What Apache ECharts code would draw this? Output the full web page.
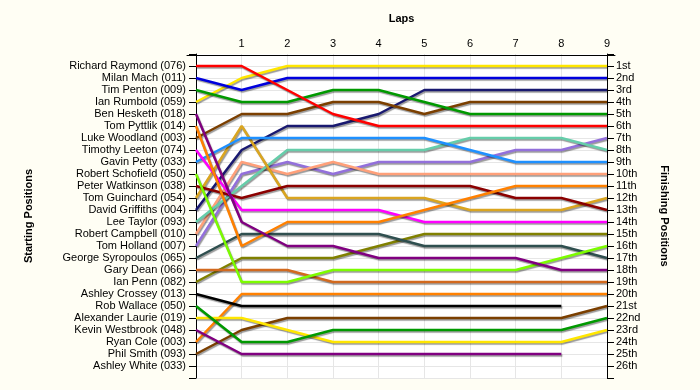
<!DOCTYPE html>
<html>
<head>
<meta charset="utf-8">
<script src="https://cdn.jsdelivr.net/npm/echarts@6/dist/echarts.min.js"></script>
<style>
html,body{margin:0;padding:0;background:#fffef4;}
#c{width:700px;height:390px;}
</style>
</head>
<body>
<div id="c"></div>
<script>
// ---- data ----
const lapLabels = ['1','2','3','4','5','6','7','8','9'];
const startLabels = [
  'Richard Raymond (076)','Milan Mach (011)','Tim Penton (009)','Ian Rumbold (059)',
  'Ben Hesketh (018)','Tom Pyttlik (014)','Luke Woodland (003)','Timothy Leeton (074)',
  'Gavin Petty (033)','Robert Schofield (050)','Peter Watkinson (038)','Tom Guinchard (054)',
  'David Griffiths (004)','Lee Taylor (093)','Robert Campbell (010)','Tom Holland (007)',
  'George Syropoulos (065)','Gary Dean (066)','Ian Penn (082)','Ashley Crossey (013)',
  'Rob Wallace (050)','Alexander Laurie (019)','Kevin Westbrook (048)','Ryan Cole (003)',
  'Phil Smith (093)','Ashley White (033)'
];
const finishLabels = ['1st','2nd','3rd','4th','5th','6th','7th','8th','9th','10th','11th','12th','13th',
  '14th','15th','16th','17th','18th','19th','20th','21st','22nd','23rd','24th','25th','26th'];

// position of each driver at laps 0..n
const raymond   = [1,1,3,5,6,6,6,6,6,6];
const mach      = [2,3,2,2,2,2,2,2,2,2];
const penton    = [3,4,4,3,3,4,5,5,5,5];
const rumbold   = [4,2,1,1,1,1,1,1,1,1];
const hesketh   = [5,14,16,16,17,17,17,17,18,18];
const pyttlik   = [6,16,14,14,14,13,12,11,11,11];
const woodland  = [7,5,5,4,4,5,4,4,4,4];
const leeton    = [8,13,13,13,13,14,14,14,14,14];
const petty     = [9,7,7,7,7,7,8,9,9,9];
const schofield = [10,19,19,18,18,18,18,18,17,16];
const watkinson = [11,12,11,11,11,11,11,12,12,13];
const guinchard = [12,6,12,12,12,12,13,13,13,12];
const griffiths = [13,8,6,6,5,3,3,3,3,3];
const taylor    = [14,11,8,8,8,8,7,7,7,8];
const campbell  = [15,9,10,9,10,10,10,10,10,10];
const holland   = [16,10,9,10,9,9,9,8,8,7];
const syropoulos= [17,15,15,15,15,16,16,16,16,17];
const dean      = [18,18,18,19,19,19,19,19,19,19];
const penn      = [19,17,17,17,16,15,15,15,15,15];
const crossey   = [20,21,21,21,21,21,21,21,21];
const wallace   = [21,24,24,23,23,23,23,23,23,22];
const laurie    = [22,22,23,24,24,24,24,24,24,23];
const westbrook = [23,25,25,25,25,25,25,25,25];
const cole      = [24,20,20,20,20,20,20,20,20,20];
const smith     = [25,23,22,22,22,22,22,22,22,21];

const driverRuns = [raymond,mach,penton,rumbold,hesketh,pyttlik,woodland,leeton,petty,schofield,
  watkinson,guinchard,griffiths,taylor,campbell,holland,syropoulos,dean,penn,crossey,wallace,
  laurie,westbrook,cole,smith];

// ---- styles ----
const palette = ['#ff0000','#0000dd','#009900','#ffe600','#800080','#ff8000','#7b3f00','#ff00ff',
  '#1e90ff','#7cfc00','#8b0000','#daa520','#191970','#66cdaa','#ffa07a','#9370db','#2f4f4f',
  '#d2691e','#808000','#000000','#009900','#ffe600','#800080','#ff8000','#7b3f00'];

const FONT = 'Liberation Sans';
const series = driverRuns.map((run, i) => ({
  type: 'line',
  name: startLabels[i],
  xAxisIndex: 0, yAxisIndex: 0,
  data: run.map((p, lap) => [lap, p]),
  symbol: 'none',
  z: 2 + (25 - i) / 100,
  lineStyle: {
    color: palette[i], width: 2.5,
    shadowColor: 'rgba(0,0,0,0.4)', shadowBlur: 1, shadowOffsetX: 1, shadowOffsetY: 1.5
  },
  animation: false
}));

const splitColors = [];
for (let v = 0; v <= 27; v++) splitColors.push(v >= 1 ? '#e6e6e6' : 'rgba(0,0,0,0)');

const chart = echarts.init(document.getElementById('c'), null, {renderer: 'canvas'});
chart.setOption({
  backgroundColor: '#fffef4',
  animation: false,
  textStyle: {fontFamily: FONT},
  grid: [
    {left: 196, right: 93, top: 54, bottom: 12, show: true, backgroundColor: '#ffffff', borderWidth: 0},
    {left: 187, right: 85, top: 54, height: 1}
  ],
  xAxis: [
    {
      type: 'value', gridIndex: 0, position: 'top', min: 0, max: 9, interval: 1,
      name: 'Laps', nameLocation: 'middle', nameGap: 30,
      nameTextStyle: {fontFamily: FONT, fontSize: 11, fontWeight: 'bold', color: '#000'},
      axisLine: {show: false},
      axisTick: {show: false},
      axisLabel: {
        margin: 5, fontFamily: FONT, fontSize: 11, color: '#000',
        formatter: v => (v >= 1 && v <= 9) ? lapLabels[v - 1] : ''
      },
      splitLine: {show: true, lineStyle: {color: '#e6e6e6', width: 1}}
    },
    {
      type: 'value', gridIndex: 1, position: 'top', min: 0, max: 1,
      axisLine: {show: true, lineStyle: {color: '#000', width: 1}},
      axisTick: {show: false}, axisLabel: {show: false}, splitLine: {show: false}
    }
  ],
  yAxis: [
    {
      type: 'value', gridIndex: 0, position: 'left', inverse: true, min: 0, max: 27, interval: 1,
      name: 'Starting Positions', nameLocation: 'middle', nameGap: 162, nameRotate: 90,
      nameTextStyle: {fontFamily: FONT, fontSize: 11, fontWeight: 'bold', color: '#000'},
      axisLine: {show: true, lineStyle: {color: '#000', width: 1}},
      axisTick: {show: true, length: 7, lineStyle: {color: '#000'}},
      axisLabel: {
        margin: 10, fontFamily: FONT, fontSize: 11, color: '#000',
        formatter: v => (v >= 1 && v <= 26) ? startLabels[v - 1] : ''
      },
      splitLine: {show: true, lineStyle: {color: splitColors, width: 1}}
    },
    {
      type: 'value', gridIndex: 0, position: 'right', inverse: true, min: 0, max: 27, interval: 1,
      name: 'Finishing Positions', nameLocation: 'middle', nameGap: 52, nameRotate: -90,
      nameTextStyle: {fontFamily: FONT, fontSize: 11, fontWeight: 'bold', color: '#000'},
      axisLine: {show: true, lineStyle: {color: '#000', width: 1}},
      axisTick: {show: true, length: 7, lineStyle: {color: '#000'}},
      axisLabel: {
        margin: 9, fontFamily: FONT, fontSize: 11, color: '#000',
        formatter: v => (v >= 1 && v <= 26) ? finishLabels[v - 1] : ''
      },
      splitLine: {show: false}
    },
    {
      type: 'value', gridIndex: 1, show: false, min: 0, max: 1
    }
  ],
  series: series
});
</script>
</body>
</html>
